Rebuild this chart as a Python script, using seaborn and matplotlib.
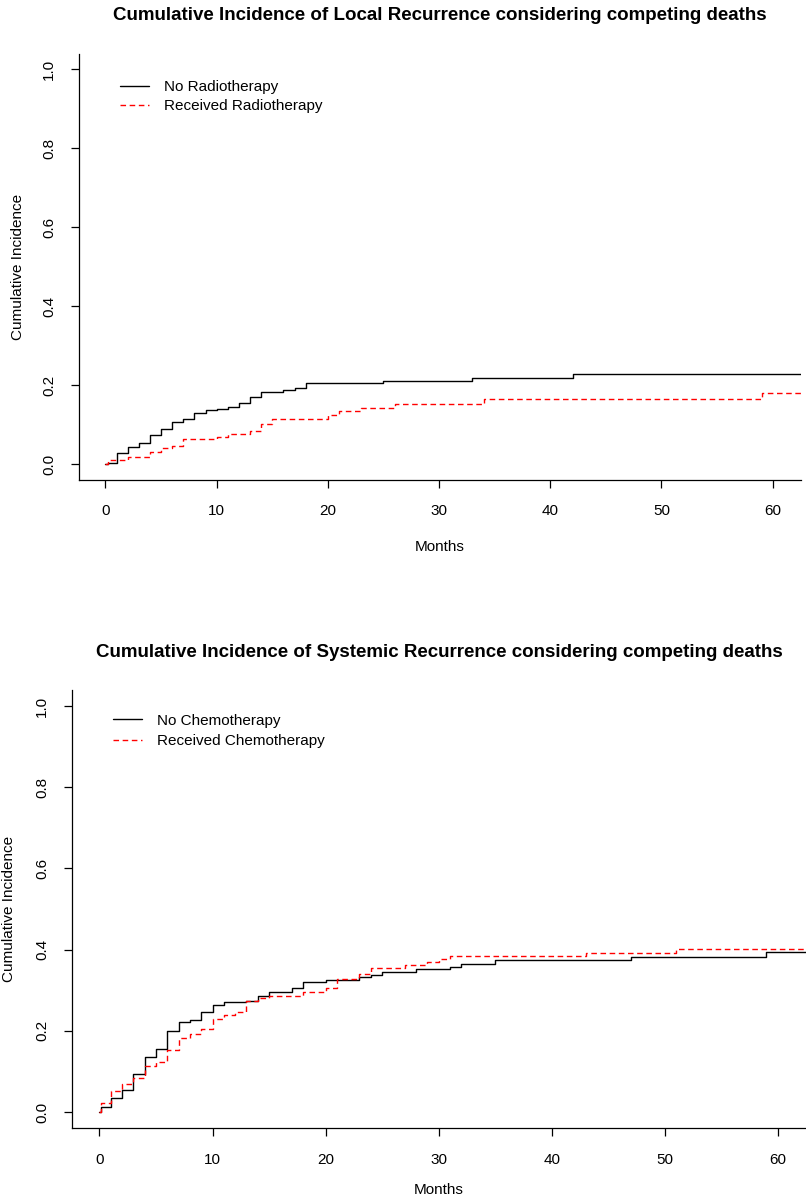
import matplotlib
matplotlib.use("Agg")
import matplotlib.pyplot as plt
import seaborn as sns
import pandas as pd

# ---------------- data ----------------
local_title = "Cumulative Incidence of Local Recurrence considering competing deaths"
systemic_title = "Cumulative Incidence of Systemic Recurrence considering competing deaths"

local_labels = ["No Radiotherapy", "Received Radiotherapy"]
systemic_labels = ["No Chemotherapy", "Received Chemotherapy"]

# Local recurrence, no radiotherapy
local_no_t = [0, 0.2, 1, 2, 3, 4, 5, 6, 7, 8, 9, 10, 11, 12, 13, 14, 16, 17, 18, 25, 33, 42, 62.5]
local_no_v = [0, 0.004, 0.028, 0.045, 0.055, 0.074, 0.089, 0.108, 0.114, 0.130, 0.137, 0.141,
              0.144, 0.154, 0.171, 0.184, 0.188, 0.194, 0.207, 0.211, 0.218, 0.228, 0.228]
# Local recurrence, received radiotherapy
local_rt_t = [0, 0.2, 2, 4, 5, 6, 7, 10, 11, 13, 14, 15, 20, 21, 23, 26, 34, 59, 62.5]
local_rt_v = [0, 0.011, 0.019, 0.032, 0.041, 0.047, 0.063, 0.070, 0.076, 0.084, 0.101, 0.115,
              0.125, 0.136, 0.143, 0.152, 0.165, 0.180, 0.180]

# Systemic recurrence, no chemotherapy
sys_no_t = [0, 0.1, 1, 2, 3, 4, 5, 6, 7, 8, 9, 10, 11, 13, 14, 15, 17, 18, 20, 23, 24, 25,
            28, 31, 32, 35, 47, 59, 62.5]
sys_no_v = [0, 0.012, 0.034, 0.054, 0.094, 0.136, 0.155, 0.200, 0.221, 0.227, 0.247, 0.263,
            0.271, 0.274, 0.286, 0.295, 0.306, 0.319, 0.326, 0.332, 0.338, 0.346, 0.352,
            0.358, 0.365, 0.374, 0.382, 0.394, 0.394]
# Systemic recurrence, received chemotherapy
sys_ct_t = [0, 0.1, 1, 2, 3, 4, 5, 6, 7, 8, 9, 10, 11, 12, 13, 14, 15, 18, 20, 21, 23, 24,
            27, 29, 30, 31, 43, 51, 62.5]
sys_ct_v = [0, 0.023, 0.052, 0.069, 0.083, 0.112, 0.124, 0.153, 0.182, 0.192, 0.204, 0.228,
            0.238, 0.247, 0.274, 0.280, 0.286, 0.295, 0.306, 0.328, 0.340, 0.355, 0.363,
            0.369, 0.377, 0.384, 0.391, 0.401, 0.401]

x_ticks = [0, 10, 20, 30, 40, 50, 60]
y_ticks = [0.0, 0.2, 0.4, 0.6, 0.8, 1.0]
y_tick_labels = ["0.0", "0.2", "0.4", "0.6", "0.8", "1.0"]
x_label = "Months"
y_label = "Cumulative Incidence"

# ---------------- style ----------------
sns.set_theme(style="ticks")
plt.rcParams["font.family"] = ["Liberation Sans", "DejaVu Sans"]
plt.rcParams["axes.edgecolor"] = "black"
plt.rcParams["xtick.color"] = "black"
plt.rcParams["ytick.color"] = "black"
plt.rcParams["text.color"] = "black"
plt.rcParams["axes.labelcolor"] = "black"

fig = plt.figure(figsize=(8.06, 12), dpi=100)
W, H = 806.0, 1200.0
ax1 = fig.add_axes([79 / W, 1 - 480.1 / H, 721.5 / W, 426.6 / H])
ax2 = fig.add_axes([72 / W, 1 - 1128.2 / H, 734 / W, 438.4 / H])

dash = (0, (4.0, 2.6))


def draw(ax, t0, v0, t1, v1, labels, title, xlim, legend_anchor, ylab_x, title_y, xlab_y,
         spacing):
    d0 = pd.DataFrame({"t": t0, "v": v0})
    d1 = pd.DataFrame({"t": t1, "v": v1})
    sns.lineplot(data=d0, x="t", y="v", ax=ax, drawstyle="steps-post", color="black",
                 linewidth=1.0, label=labels[0], estimator=None)
    sns.lineplot(data=d1, x="t", y="v", ax=ax, drawstyle="steps-post", color="#ff0000",
                 linewidth=1.0, linestyle=dash, label=labels[1], estimator=None)
    ax.set_xlim(*xlim)
    ax.set_ylim(-0.04, 1.04)
    ax.set_xticks(x_ticks)
    ax.set_xticklabels([str(x) for x in x_ticks])
    ax.set_yticks(y_ticks)
    ax.set_yticklabels(y_tick_labels, rotation=90, va="center")
    for s in ["top", "right"]:
        ax.spines[s].set_visible(False)
    for s in ["left", "bottom"]:
        ax.spines[s].set_linewidth(0.9)
        ax.spines[s].set_color("black")
    ax.tick_params(axis="both", direction="out", length=5.5, width=0.9, labelsize=11)
    ax.tick_params(axis="x", pad=12)
    ax.tick_params(axis="y", pad=11)
    ax.set_xlabel(x_label, fontsize=11)
    ax.set_ylabel(y_label, fontsize=11)
    ax.xaxis.label.set_va("center")
    ax.yaxis.label.set_va("center")
    ax.xaxis.set_label_coords(0.5, xlab_y)
    ax.yaxis.set_label_coords(ylab_x, 0.5)
    ax.set_title(title, fontsize=13.5, fontweight="bold", y=title_y, va="center", pad=0)
    ax.legend(loc="center left", bbox_to_anchor=legend_anchor, bbox_transform=fig.transFigure,
              frameon=False, borderpad=0, borderaxespad=0, fontsize=11, handlelength=1.9,
              handletextpad=1.0, labelspacing=spacing)
    ax.grid(False)


draw(ax1, local_no_t, local_no_v, local_rt_t, local_rt_v, local_labels, local_title,
     (-2.38, 62.5), (120 / W, 1 - 96.5 / H), -0.0845, 1.088, -0.157, 0.33)
draw(ax2, sys_no_t, sys_no_v, sys_ct_t, sys_ct_v, systemic_labels, systemic_title,
     (-2.43, 62.5), (113 / W, 1 - 731 / H), -0.0858, 1.086, -0.140, 0.42)

fig.savefig("out.png", dpi=100, facecolor="white")
